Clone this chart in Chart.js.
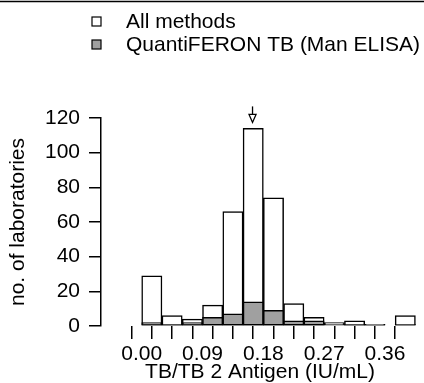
<!DOCTYPE html>
<html>
<head>
<meta charset="utf-8">
<script src="https://cdn.jsdelivr.net/npm/chart.js@4.4.1/dist/chart.umd.min.js"></script>
<style>
  html, body { margin: 0; padding: 0; background: #ffffff; }
  #wrap { width: 424px; height: 383px; position: relative; }
</style>
</head>
<body>
<div id="wrap"><canvas id="chart"></canvas></div>
<script>
// Histogram bins (centre of each 0.03 IU/mL bin; the last one holds results above 0.36)
const binCenters = [0.015, 0.045, 0.075, 0.105, 0.135, 0.165, 0.195, 0.225, 0.255, 0.285, 0.315, 0.345, 0.39];
// Number of laboratories per bin
const allMethods  = [29, 6, 4, 12, 66, 114, 74, 13, 5, 2, 3, 1, 6];
const quantiferon = [2, 1, 2, 5, 7, 14, 9, 3, 3, 0, 1, 1, 1];
const seriesNames = ['All methods', 'QuantiFERON TB (Man ELISA)'];
// Axis ticks
const xTickValues = [0, 0.03, 0.06, 0.09, 0.12, 0.15, 0.18, 0.21, 0.24, 0.27, 0.30, 0.33, 0.36];
const xTickLabels = ['0.00', '', '', '0.09', '', '', '0.18', '', '', '0.27', '', '', '0.36'];
const yTickValues = [0, 20, 40, 60, 80, 100, 120];
// Median of all results, marked with an arrow
const medianValue = 0.164;

const FONT = "'Liberation Sans', Arial, Helvetica, sans-serif";
const GREY = '#a0a0a0';

const toPoints = vals => vals.map((v, i) => ({ x: binCenters[i], y: v }));

// thin rule across the top of the figure
const topRule = {
  id: 'topRule',
  afterDraw(chart) {
    const ctx = chart.ctx;
    ctx.save();
    ctx.strokeStyle = '#000';
    ctx.lineWidth = 1.5;
    ctx.beginPath();
    ctx.moveTo(0, 1.5);
    ctx.lineTo(chart.width, 1.5);
    ctx.stroke();
    ctx.restore();
  }
};

// open-headed arrow above the histogram at the median
const medianArrow = {
  id: 'medianArrow',
  afterDatasetsDraw(chart) {
    const xs = chart.scales.x, ys = chart.scales.y;
    const x = xs.getPixelForValue(medianValue);
    const tip = ys.getPixelForValue(Math.max(...allMethods)) - 6;
    const ctx = chart.ctx;
    ctx.save();
    ctx.strokeStyle = '#000';
    ctx.lineWidth = 1.3;
    ctx.beginPath();
    ctx.moveTo(x, tip - 16);
    ctx.lineTo(x, tip - 8);
    ctx.stroke();
    ctx.beginPath();
    ctx.moveTo(x - 3.5, tip - 8);
    ctx.lineTo(x + 3.5, tip - 8);
    ctx.lineTo(x, tip);
    ctx.closePath();
    ctx.stroke();
    ctx.restore();
  }
};

// two-row legend in the upper right
const boxLegend = {
  id: 'boxLegend',
  afterDraw(chart) {
    const ctx = chart.ctx;
    const rows = [21.5, 44.5];
    ctx.save();
    ctx.font = '21px ' + FONT;
    ctx.textBaseline = 'middle';
    ctx.textAlign = 'left';
    chart.data.datasets.slice().sort((a, b) => b.order - a.order).forEach((ds, i) => {
      const y = rows[i];
      ctx.fillStyle = ds.backgroundColor;
      ctx.fillRect(92, y - 4.5, 9, 9);
      ctx.strokeStyle = '#000';
      ctx.lineWidth = 1.2;
      ctx.strokeRect(92, y - 4.5, 9, 9);
      ctx.fillStyle = '#000';
      ctx.fillText(ds.label, 126, y + 1);
    });
    ctx.restore();
  }
};

new Chart(document.getElementById('chart'), {
  type: 'bar',
  data: {
    datasets: [
      {
        label: seriesNames[1],
        data: toPoints(quantiferon),
        backgroundColor: GREY,
        borderColor: '#000',
        borderWidth: 1.5,
        borderSkipped: false,
        barPercentage: 1,
        categoryPercentage: 1,
        grouped: false,
        order: 0
      },
      {
        label: seriesNames[0],
        data: toPoints(allMethods),
        backgroundColor: '#ffffff',
        borderColor: '#000',
        borderWidth: 1.5,
        borderSkipped: false,
        barPercentage: 1,
        categoryPercentage: 1,
        grouped: false,
        order: 1
      }
    ]
  },
  options: {
    responsive: true,
    maintainAspectRatio: false,
    animation: false,
    layout: { padding: { top: 118, right: 5, left: 0, bottom: 0 } },
    plugins: {
      legend: { display: false },
      tooltip: { enabled: false }
    },
    scales: {
      x: {
        type: 'linear',
        min: -0.0602,
        max: 0.4103,
        offset: false,
        afterFit(scale) { scale.height = 57; },
        afterBuildTicks(scale) { scale.ticks = xTickValues.map(v => ({ value: v })); },
        ticks: {
          autoSkip: false,
          maxRotation: 0,
          padding: 3,
          color: '#000',
          font: { family: FONT, size: 21 },
          callback: (value, index) => xTickLabels[index]
        },
        grid: { drawOnChartArea: false, drawTicks: true, tickLength: 13, color: '#000', lineWidth: 1.5 },
        border: { display: false },
        title: {
          display: true,
          text: 'TB/TB 2 Antigen (IU/mL)',
          color: '#000',
          font: { family: FONT, size: 21, lineHeight: 1 },
          padding: { top: 0, bottom: 0 }
        }
      },
      y: {
        min: 0,
        max: 120,
        afterFit(scale) { scale.width = 101; },
        afterBuildTicks(scale) { scale.ticks = yTickValues.map(v => ({ value: v })); },
        ticks: {
          padding: 9,
          color: '#000',
          font: { family: FONT, size: 21 }
        },
        grid: { drawOnChartArea: false, drawTicks: true, tickLength: 12, color: '#000', lineWidth: 1.5 },
        border: { display: true, color: '#000', width: 1.5 },
        title: {
          display: true,
          text: 'no. of laboratories',
          color: '#000',
          font: { family: FONT, size: 21, lineHeight: 1.2 },
          padding: { top: 6, bottom: 0 }
        }
      }
    }
  },
  plugins: [topRule, medianArrow, boxLegend]
});
</script>
</body>
</html>
